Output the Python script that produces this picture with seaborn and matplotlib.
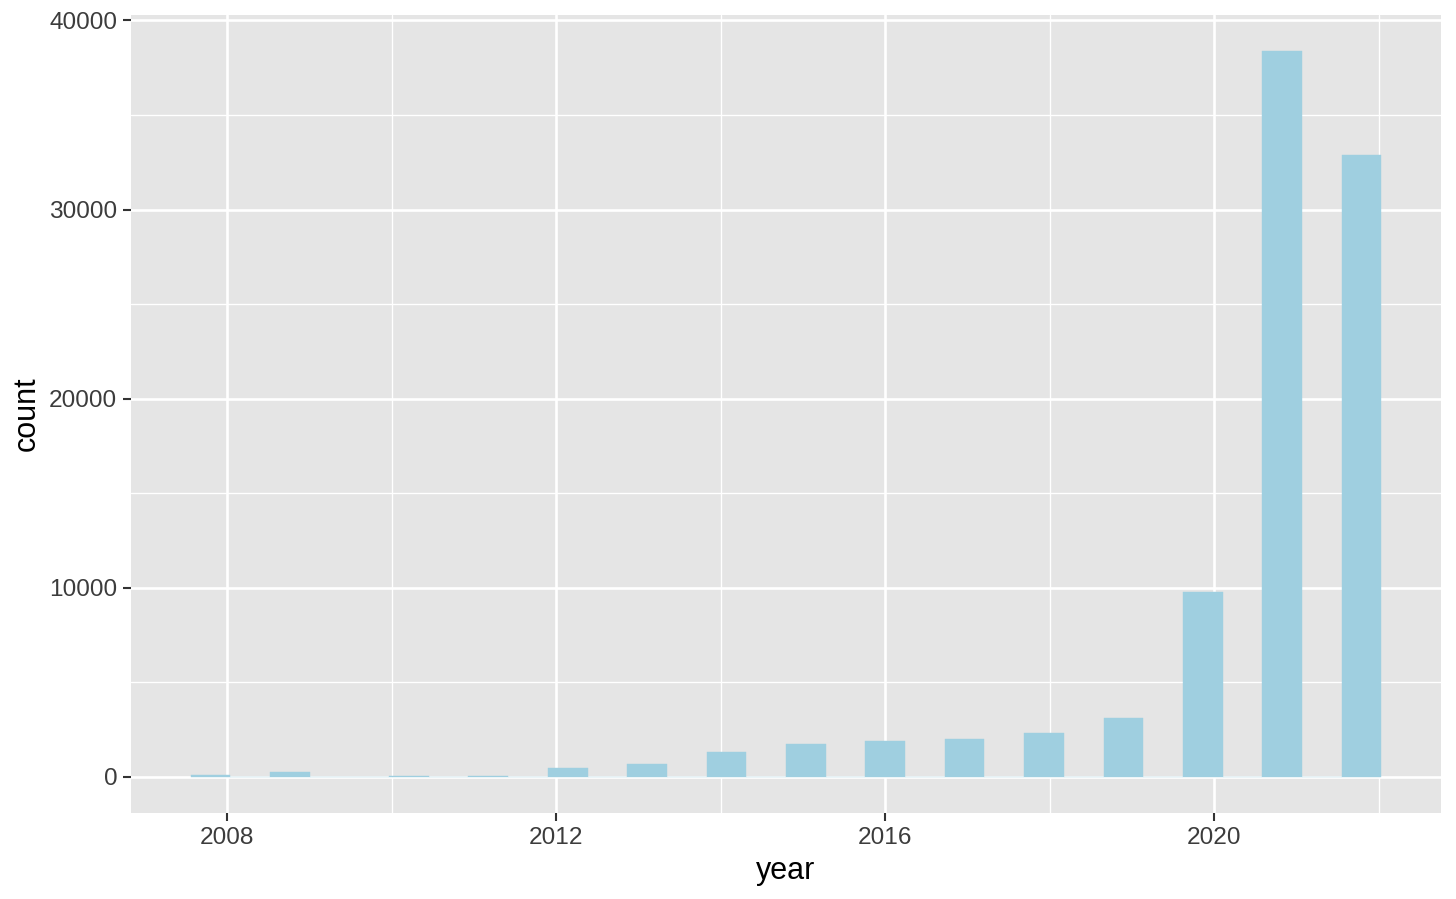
import numpy as np
import pandas as pd
import matplotlib
matplotlib.use("Agg")
import matplotlib.pyplot as plt
from matplotlib.ticker import MultipleLocator, FixedLocator
import seaborn as sns

# ---- data ----
years = [2008, 2009, 2010, 2011, 2012, 2013, 2014, 2015, 2016, 2017, 2018, 2019, 2020, 2021, 2022]
counts = [90, 260, 25, 18, 480, 650, 1285, 1725, 1900, 1990, 2330, 3130, 9760, 38370, 32880]
x_major = [2008, 2012, 2016, 2020]
x_minor = [2010, 2014, 2018, 2022]
y_major = [0, 10000, 20000, 30000, 40000]
y_major_labels = ["0", "10000", "20000", "30000", "40000"]

df = pd.DataFrame({"year": years, "count": counts})

# ggplot2-like binning: 30 bins over the data range, right-closed
n_bins = 30
lo, hi = min(years), max(years)
width = (hi - lo) / (n_bins - 1)
boundary = width / 2
shift = np.floor((lo - boundary) / width)
origin = boundary + shift * width
edges = [float(origin + width * k + 1e-7) for k in range(n_bins + 1)]  # right-closed

PANEL = "#E5E5E5"
BAR = "#9FCFE0"
PX_PER_PT = 2.0  # scale used in the reference (ggplot pt -> matplotlib pt at dpi 100)

sns.set_theme(style="darkgrid")
plt.rcParams["font.family"] = ["Liberation Sans", "DejaVu Sans"]

fig = plt.figure(figsize=(14.56, 8.99), dpi=100)
ax = fig.add_axes([131 / 1456, 1 - 813 / 899, (1441 - 131) / 1456, (813 - 15) / 899])
ax.set_facecolor(PANEL)

sns.histplot(data=df, x="year", weights="count", bins=edges, stat="count",
             color=BAR, alpha=1, edgecolor=BAR, linewidth=0.3, ax=ax)

ax.use_sticky_edges = False
ax.margins(x=0.05, y=0.05)
ax.autoscale_view()

ax.xaxis.set_major_locator(FixedLocator(x_major))
ax.xaxis.set_minor_locator(FixedLocator(x_minor))
ax.set_xticklabels([str(v) for v in x_major])
ax.yaxis.set_major_locator(FixedLocator(y_major))
ax.yaxis.set_minor_locator(MultipleLocator(5000))
ax.set_yticklabels(y_major_labels)

ax.grid(which="major", color="white", linewidth=1.9)
ax.grid(which="minor", color="white", linewidth=0.95)
ax.set_axisbelow(True)
for s in ax.spines.values():
    s.set_visible(False)

tick_fs = 8.8 * PX_PER_PT
title_fs = 11 * PX_PER_PT
ax.tick_params(axis="both", which="major", length=2.75 * PX_PER_PT, width=1.5,
               color="#333333", labelcolor="#3C3C3C", labelsize=tick_fs,
               pad=2.2 * PX_PER_PT, bottom=True, left=True)
ax.tick_params(axis="both", which="minor", length=0, bottom=False, left=False)

ax.set_xlabel("year", fontsize=title_fs, color="black", labelpad=2.75 * PX_PER_PT)
ax.set_ylabel("count", fontsize=title_fs, color="black", labelpad=2.75 * PX_PER_PT)

fig.savefig("out.png", dpi=100, facecolor="white")
